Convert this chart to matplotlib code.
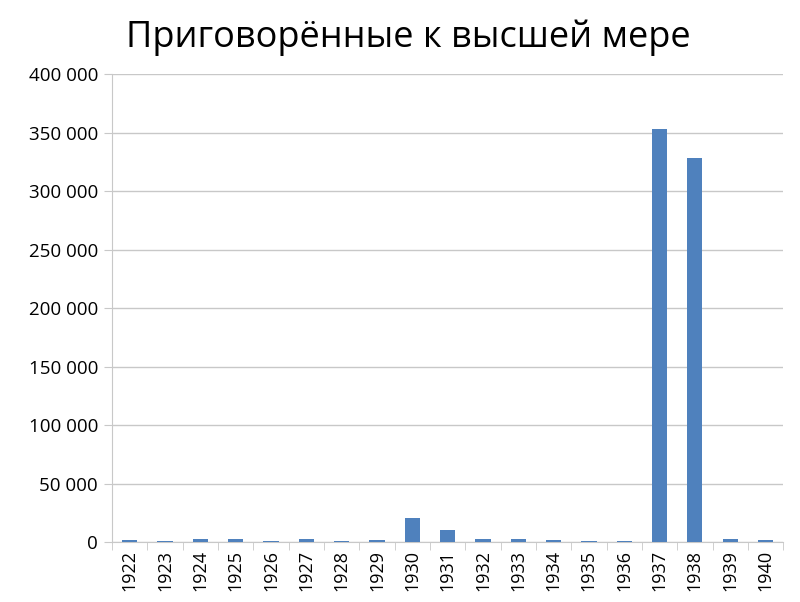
import matplotlib
matplotlib.use("Agg")
import matplotlib.pyplot as plt
from matplotlib.ticker import FuncFormatter

# Data: sentenced to capital punishment per year
years = ['1922', '1923', '1924', '1925', '1926', '1927', '1928', '1929', '1930', '1931',
         '1932', '1933', '1934', '1935', '1936', '1937', '1938', '1939', '1940']
counts = [1962, 414, 2550, 2433, 990, 2363, 869, 2109, 20201, 10651,
          2728, 2154, 2056, 1229, 1118, 353074, 328618, 2552, 1649]

plt.rcParams['font.family'] = ['Open Sans', 'DejaVu Sans']

fig = plt.figure(figsize=(8, 6.02), dpi=100)
ax = fig.add_axes([0.14, 0.0997, 0.839, 0.777])

x = range(len(years))
ax.bar(x, counts, width=0.43, color='#4F81BD', zorder=3)

ax.set_xlim(-0.5, len(years) - 0.5)
ax.set_ylim(0, 400000)
ax.set_yticks(range(0, 400001, 50000))
ax.yaxis.set_major_formatter(FuncFormatter(lambda v, p: '{:,}'.format(int(v)).replace(',', ' ')))
ax.grid(axis='y', color='#C8C8C8', linewidth=1, zorder=0)

ax.set_xticks(list(x))
ax.set_xticklabels(years, rotation=90, fontsize=13)
ax.set_xticks([i + 0.5 for i in range(-1, len(years))], minor=True)
ax.tick_params(axis='x', which='major', length=0, pad=6)
ax.tick_params(axis='x', which='minor', length=6, color='#C8C8C8')
ax.tick_params(axis='y', length=6, color='#C8C8C8', labelsize=13.5, pad=4)

for s in ['top', 'right']:
    ax.spines[s].set_visible(False)
ax.spines['left'].set_color('#C8C8C8')
ax.spines['bottom'].set_color('#C8C8C8')

fig.text(0.511, 0.938, 'Приговорённые к высшей мере', ha='center', va='center', fontsize=26)

fig.savefig('out.png', dpi=100)
